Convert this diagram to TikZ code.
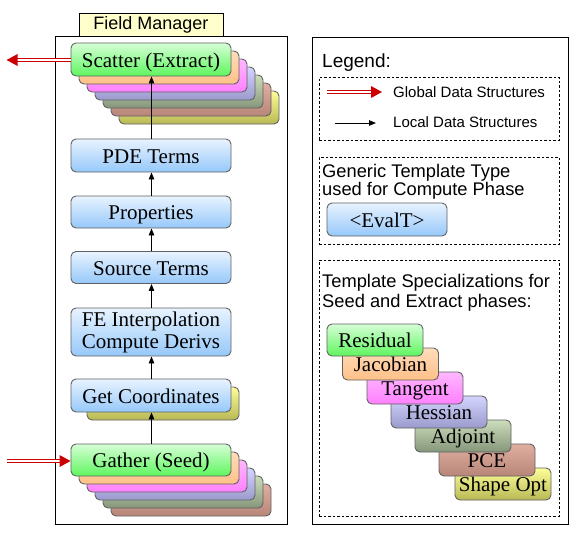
\documentclass[tikz,border=0pt]{standalone}
\usepackage{fontspec}
\setmainfont{Liberation Serif}
\newfontfamily\sansf{Liberation Sans}
\usetikzlibrary{arrows.meta}
\definecolor{gtop}{HTML}{D6FFD6}
\definecolor{gbot}{HTML}{5EF55E}
\definecolor{btop}{HTML}{E8F3FF}
\definecolor{bbot}{HTML}{96C8FA}
\definecolor{otop}{HTML}{FFDDBB}
\definecolor{obot}{HTML}{FFC088}
\definecolor{ptop}{HTML}{FFB8FF}
\definecolor{pbot}{HTML}{FF80FF}
\definecolor{ltop}{HTML}{D4D4FF}
\definecolor{lbot}{HTML}{9A9ACC}
\definecolor{stop}{HTML}{CCDDBB}
\definecolor{sbot}{HTML}{86967A}
\definecolor{rtop}{HTML}{E0AFA0}
\definecolor{rbot}{HTML}{B88678}
\definecolor{ytop}{HTML}{FFFF99}
\definecolor{ybot}{HTML}{B8B855}
\definecolor{fmyellow}{HTML}{FFFFCC}
\definecolor{redarrow}{HTML}{CC0000}
\tikzset{
  bx/.style={rounded corners=5pt, draw=black!62, line width=0.9pt, inner sep=0pt,
    font=\fontsize{21}{22}\selectfont, text=black, text height=16.5pt, text depth=1.5pt},
  gbox/.style={bx, top color=gtop, bottom color=gbot},
  bbox/.style={bx, top color=btop, bottom color=bbot},
  obox/.style={bx, top color=otop, bottom color=obot},
  pbox/.style={bx, top color=ptop, bottom color=pbot},
  lbox/.style={bx, top color=ltop, bottom color=lbot},
  sbox/.style={bx, top color=stop, bottom color=sbot},
  rbox/.style={bx, top color=rtop, bottom color=rbot},
  ybox/.style={bx, top color=ytop, bottom color=ybot},
  wide/.style={minimum width=160pt, minimum height=33pt},
  stair/.style={minimum width=96pt, minimum height=32pt},
  frame/.style={draw=black, line width=1pt},
  dbox/.style={draw=black, line width=0.8pt, dash pattern=on 2.5pt off 2pt},
  localarrow/.style={draw=black, line width=0.9pt, -{Triangle[length=7pt,width=5.5pt]}},
  globalline/.style={draw=redarrow, line width=1.1pt, double=white, double distance=2.4pt},
  sanstext/.style={inner sep=0pt, anchor=base west, text=black},
}
\begin{document}
\begin{tikzpicture}[x=1pt,y=-1pt]
\useasboundingbox (0,0) rectangle (579,536);
% frames
\node[frame, minimum width=232pt, minimum height=488pt, inner sep=0pt] (fmframe) at (171,280) {};
\node[frame, fill=fmyellow, minimum width=144pt, minimum height=23pt, inner sep=0pt,
  font=\sansf\fontsize{18}{20}\selectfont] (fmlabel) at (151,24.5) {Field Manager};
\node[frame, minimum width=256pt, minimum height=487pt, inner sep=0pt] (rframe) at (440,280.5) {};

% Scatter stack
\node[ybox, wide] (sc6) at (199,107.5) {};
\node[rbox, wide] (sc5) at (191,99.5) {};
\node[sbox, wide] (sc4) at (183,91.5) {};
\node[lbox, wide] (sc3) at (175,83.5) {};
\node[pbox, wide] (sc2) at (167,75.5) {};
\node[obox, wide] (sc1) at (159,67.5) {};
\node[gbox, wide] (scatter) at (151,59.5) {Scatter (Extract)};

% middle boxes
\node[bbox, wide] (pde) at (151,155.5) {PDE Terms};
\node[bbox, wide, minimum height=32pt] (prop) at (151,212) {Properties};
\node[bbox, wide, minimum height=32pt] (src) at (151,267.5) {Source Terms};
\node[bbox, wide, minimum height=48pt, align=center, text height=, text depth=, font=\fontsize{21}{22}\selectfont] (fe) at (151,332) {FE Interpolation\\Compute Derivs};
\node[ybox, minimum width=152pt, minimum height=33pt] (gc1) at (163,403.5) {};
\node[bbox, wide] (getc) at (151,395.5) {Get Coordinates};

% Gather stack
\node[rbox, wide, minimum height=32pt] (ga5) at (191,500) {};
\node[sbox, wide, minimum height=32pt] (ga4) at (183,492) {};
\node[lbox, wide, minimum height=32pt] (ga3) at (175,484) {};
\node[pbox, wide, minimum height=32pt] (ga2) at (167,476) {};
\node[obox, wide, minimum height=32pt] (ga1) at (159,468) {};
\node[gbox, wide, minimum height=32pt] (gather) at (151,460) {Gather (Seed)};

% local arrows
\draw[localarrow] ([xshift=0.5pt]gather.north) -- ([xshift=0.5pt]getc.south);
\draw[localarrow] ([xshift=0.5pt]getc.north) -- ([xshift=0.5pt]fe.south);
\draw[localarrow] ([xshift=0.5pt]fe.north) -- ([xshift=0.5pt]src.south);
\draw[localarrow] ([xshift=0.5pt]src.north) -- ([xshift=0.5pt]prop.south);
\draw[localarrow] ([xshift=0.5pt]prop.north) -- ([xshift=0.5pt]pde.south);
\draw[localarrow] ([xshift=0.5pt]pde.north) -- ([xshift=0.5pt]scatter.south);

% global arrows
\coordinate (sout) at ([yshift=-0.5pt]scatter.west);
\coordinate (outpt) at ([xshift=-64pt]sout);
\draw[globalline] (sout) -- ([xshift=10pt]outpt);
\fill[redarrow] (outpt) -- ++(11,-6) -- ++(0,12) -- cycle;
\coordinate (gin) at ([yshift=-1pt]gather.west);
\coordinate (inpt) at ([xshift=-64pt]gin);
\draw[globalline] (inpt) -- ([xshift=-10pt]gin);
\fill[redarrow] (gin) -- ++(-11,-6) -- ++(0,12) -- cycle;

% Legend
\node[sanstext, font=\sansf\fontsize{19}{21}\selectfont] (legend) at (322,67) {Legend:};
\node[dbox, minimum width=240pt, minimum height=63pt, inner sep=0pt] (dash1) at (439,108.5) {};
\coordinate (ga) at (327,92);
\coordinate (gb) at (382,92);
\draw[globalline] (ga) -- ([xshift=-10pt]gb);
\fill[redarrow] (gb) -- ++(-11,-6) -- ++(0,12) -- cycle;
\coordinate (la) at (335,123);
\coordinate (lb) at (376,123);
\draw[localarrow] (la) -- (lb);
\node[sanstext, font=\sansf\fontsize{15}{17}\selectfont] (gtext) at (393,97) {Global Data Structures};
\node[sanstext, font=\sansf\fontsize{15}{17}\selectfont] (ltext) at (393,127.5) {Local Data Structures};

\node[dbox, minimum width=240pt, minimum height=87pt, inner sep=0pt] (dash2) at (439,200.5) {};
\node[sanstext, font=\sansf\fontsize{18.3}{20}\selectfont] (gt1) at (322,177) {Generic Template Type};
\node[sanstext, font=\sansf\fontsize{18.3}{20}\selectfont] (gt2) at (322,195) {used for Compute Phase};
\node[bbox, minimum width=120pt, minimum height=33pt] (evalt) at (387,219.5) {<EvalT>};

\node[dbox, minimum width=240pt, minimum height=256pt, inner sep=0pt] (dash3) at (439,388) {};
\node[sanstext, font=\sansf\fontsize{18.3}{20}\selectfont] (ts1) at (322,287) {Template Specializations for};
\node[sanstext, font=\sansf\fontsize{18.3}{20}\selectfont] (ts2) at (322,307) {Seed and Extract phases:};

% stair
\node[ybox, stair] (shape) at (503,484) {Shape Opt};
\node[rbox, stair] (pce) at (487,460) {PCE};
\node[sbox, stair] (adj) at (463,436) {Adjoint};
\node[lbox, stair] (hess) at (439,412) {Hessian};
\node[pbox, stair] (tang) at (415,388) {Tangent};
\node[obox, stair] (jac) at (390.5,364) {Jacobian};
\node[gbox, stair] (res) at (375,340) {Residual};
\end{tikzpicture}
\end{document}
